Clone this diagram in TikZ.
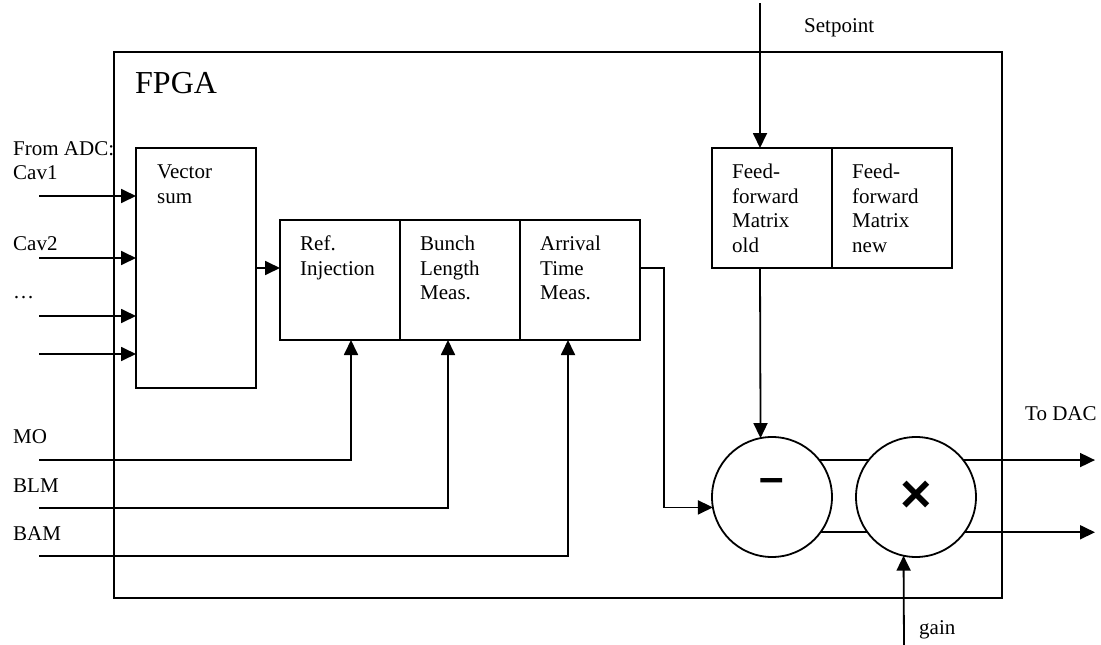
\documentclass[tikz,border=0pt]{standalone}
\usepackage{fontspec}
\setmainfont{Liberation Serif}
\newfontfamily\opfont{Liberation Sans}
\usetikzlibrary{arrows.meta,positioning}

\newcommand{\lbltxt}{\fontsize{21}{24.5}\selectfont}

\begin{document}
\begin{tikzpicture}[x=1pt,y=-1pt,>={Triangle[length=15pt,width=14pt]},
  wire/.style={line width=1.8pt},
  sig/.style={wire,->},
  blockbox/.style={draw,line width=1.8pt,inner sep=0pt,outer sep=0pt,anchor=north west,
    minimum width=120pt,minimum height=120pt},
  blocktxt/.style={inner sep=0pt,anchor=north west,align=left,font=\lbltxt},
  lbl/.style={inner sep=0pt,anchor=base west,font=\lbltxt},
  opcirc/.style={draw,circle,line width=1.8pt,minimum size=120pt,inner sep=0pt,outer sep=0pt},
  opsign/.style={inner sep=0pt,font=\opfont\bfseries\fontsize{44}{44}\selectfont}]
  \useasboundingbox (0,0) rectangle (1101,645);

  % FPGA frame
  \node[blockbox,minimum width=888pt,minimum height=546pt] (fpga) at (114,52) {};
  \node[lbl,font=\fontsize{32}{36}\selectfont] (fpgatxt) at (135,93) {FPGA};

  % vector sum with the cavity inputs
  \node[blockbox,minimum height=240pt] (vsum) at (136,148) {};
  \node[blocktxt] (vsumtxt) at ([xshift=21pt,yshift=-17pt]vsum.north west) {Vector\\sum};
  \node[lbl] (fromadc) at (13,155) {From ADC:};
  \node[lbl] (cav1txt) at (13,179) {Cav1};
  \node[lbl] (cav2txt) at (13,250) {Cav2};
  \node[lbl] (dotstxt) at (13,298) {…};
  \coordinate (cav1) at (39,196);
  \coordinate (cav2) at (39,258);
  \coordinate (cav3) at (39,316);
  \coordinate (cav4) at (39,354);
  \foreach \c in {cav1,cav2,cav3,cav4}
    \draw[sig] (\c) -- (\c -| vsum.west);

  % measurement blocks
  \node[blockbox] (refinj) at (280,220) {};
  \node[blockbox,right=0pt of refinj] (bunch) {};
  \node[blockbox,right=0pt of bunch] (arrival) {};
  \node[blocktxt] (refinjtxt) at ([xshift=20pt,yshift=-16pt]refinj.north west) {Ref.\\Injection};
  \node[blocktxt] (bunchtxt) at ([xshift=20pt,yshift=-16pt]bunch.north west) {Bunch\\Length\\Meas.};
  \node[blocktxt] (arrivaltxt) at ([xshift=20pt,yshift=-16pt]arrival.north west) {Arrival\\Time\\Meas.};
  \draw[sig] (vsum.east) -- (vsum.east -| refinj.west);

  % beam signals from below
  \node[lbl] (motxt) at (13,443) {MO};
  \node[lbl] (blmtxt) at (13,492) {BLM};
  \node[lbl] (bamtxt) at (13,540) {BAM};
  \coordinate (mo) at (39,460);
  \coordinate (blm) at (39,508);
  \coordinate (bam) at (39,556);
  \draw[sig] (mo) -| ([xshift=11pt]refinj.south);
  \draw[sig] (blm) -| ([xshift=-12pt]bunch.south);
  \draw[sig] (bam) -| ([xshift=-12pt]arrival.south);

  % feed-forward tables
  \node[blockbox] (ffold) at (712,148) {};
  \node[blockbox,right=0pt of ffold] (ffnew) {};
  \node[blocktxt] (ffoldtxt) at ([xshift=20pt,yshift=-16pt]ffold.north west) {Feed-\\forward\\Matrix\\old};
  \node[blocktxt] (ffnewtxt) at ([xshift=20pt,yshift=-16pt]ffnew.north west) {Feed-\\forward\\Matrix\\new};
  \coordinate (setp) at (760,3);
  \node[lbl] (setptxt) at (804,32) {Setpoint};
  \draw[sig] (setp) -- (setp |- ffold.north);

  % subtract and gain
  \node[opcirc] (minus) at (772,497) {};
  \node[opsign] (minussign) at ([yshift=11pt]minus.center) {–};
  \node[opcirc,opsign,font=\opfont\bfseries\fontsize{54}{54}\selectfont] (times) at (916,497) {×};
  \draw[sig] (setp |- ffold.south) -- (minus.101);
  \draw[sig] ([yshift=12pt]arrival.east) -- ++(24,0) |- (minus.190);
  \draw[wire] (minus.38) -- (times.142);
  \draw[wire] (minus.-36) -- (times.-144);
  \coordinate (dacend) at (1095,0);
  \draw[sig] (times.38) -- (times.38 -| dacend);
  \draw[sig] (times.-36) -- (times.-36 -| dacend);
  \node[lbl] (dactxt) at (1025,420) {To DAC};
  \coordinate (gainin) at (904,645);
  \node[lbl] (gaintxt) at (919,634) {gain};
  \draw[sig] (gainin) -- (times.258);
\end{tikzpicture}
\end{document}
